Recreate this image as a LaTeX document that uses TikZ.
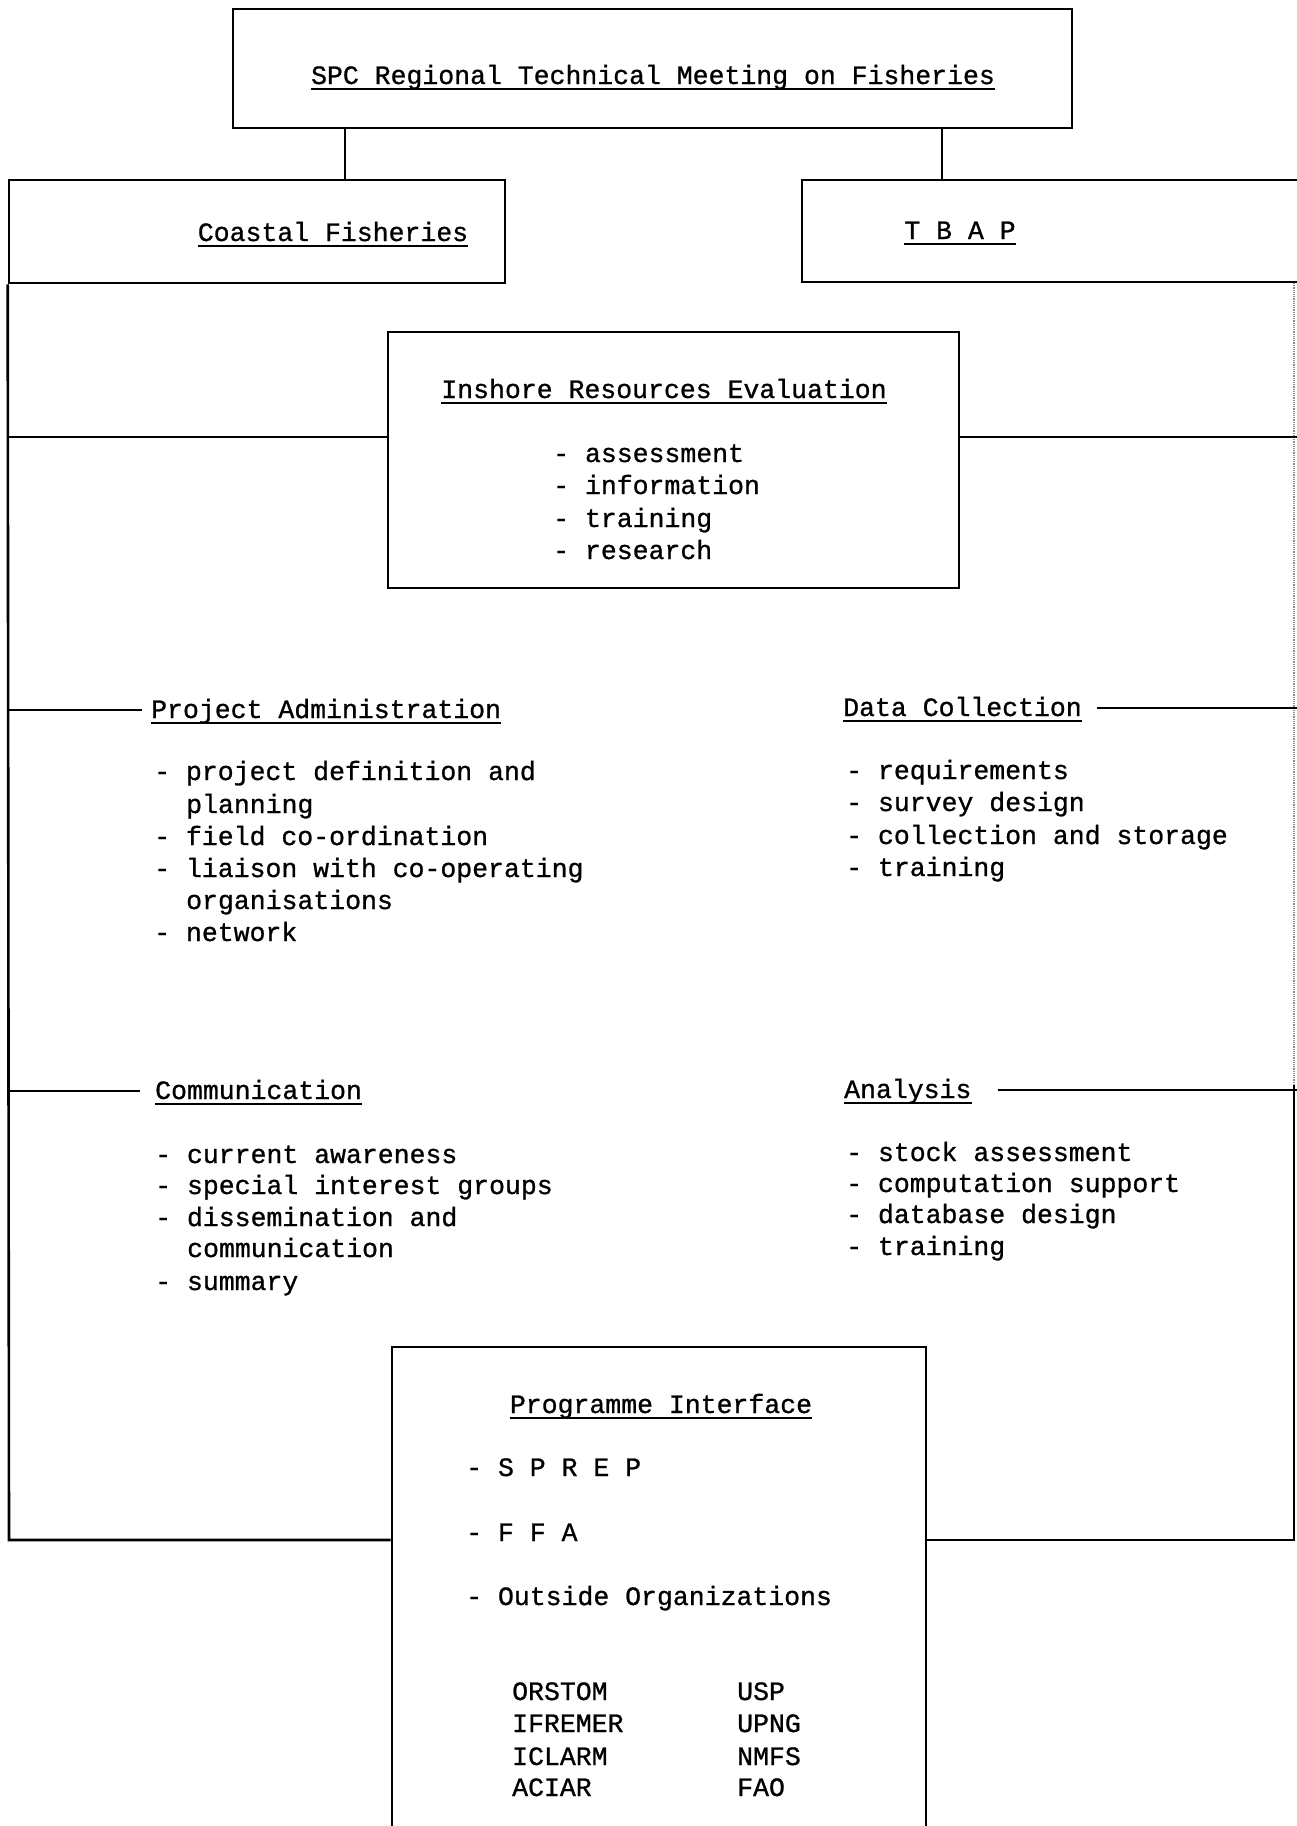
\documentclass[tikz,border=0pt]{standalone}
\usepackage{fontspec}
\setmainfont{Liberation Mono}[FakeBold=0.9]
\begin{document}
\begin{tikzpicture}[x=1pt,y=-1pt,
  ln/.style={line width=2.6pt},
  faint/.style={line width=1.2pt, densely dotted, black!45},
  box/.style={draw, line width=2.6pt, inner sep=0pt},
  txt/.style={inner sep=0pt, font=\fontsize{26.5}{32}\selectfont, anchor=base west},
  ttl/.style={txt, anchor=base},
  ul/.style={line width=1.6pt}]
\useasboundingbox[fill=white] (0,0) rectangle (1297,1826);

% boxes
\node[box, minimum width=839pt, minimum height=119pt] (spc) at (652.5,68.5) {};
\node[box, minimum width=496pt, minimum height=103pt] (coast) at (257,231.5) {};
\draw[ln] (1310,180) -- (802,180) -- (802,282) -- (1310,282);
\coordinate (tbapl) at (802,231);
\node[box, minimum width=571pt, minimum height=256pt] (insh) at (673.5,460) {};
\node[box, minimum width=534pt, minimum height=503pt] (prog) at (659,1598.5) {};

% connectors from top box
\draw[ln] (spc.south -| 345,0) -- (coast.north -| 345,0);
\draw[ln] (spc.south -| 942,0) -- (942,180);

% trunk coordinates
\coordinate (bl) at (9,1540);
\coordinate (br) at (1294,1540);
\coordinate (hl) at (9,437);
\coordinate (hr) at (1297,437);

\draw[ln] (coast.south west) -- (bl) -- (prog.west |- bl);
\draw[ln] (prog.east |- br) -- (br) -- (1294,1085);
\draw[faint] (1294,1085) -- (1294,282);
\draw[ln] (hl) -- (hl -| insh.west);
\draw[ln] (hr) -- (hr -| insh.east);

% titles
\node[ttl] (t0) at (653,84) {SPC Regional Technical Meeting on Fisheries};
\node[ttl] (t1) at (333,241) {Coastal Fisheries};
\node[ttl] (t2) at (960,239) {T B A P};
\node[ttl] (t3) at (664,398) {Inshore Resources Evaluation};
\node[txt] (pa) at (151,718) {Project Administration};
\node[txt] (dc) at (843,716) {Data Collection};
\node[txt] (cm) at (155,1099) {Communication};
\node[txt] (an) at (844,1098) {Analysis};
\node[ttl] (pi) at (661,1413) {Programme Interface};

\foreach \n in {t0,t1,t2,t3,pa,dc,cm,an,pi}
  \draw[ul] ([yshift=-5pt]\n.base west) -- ([yshift=-5pt]\n.base east);

% lines to section headings
\coordinate (pal) at (9,710);
\coordinate (dcr) at (1297,708);
\coordinate (cml) at (9,1091);
\coordinate (anr) at (1297,1090);
\draw[ln] (pal) -- ([xshift=-9pt]pa.base west |- pal);
\draw[ln] ([xshift=15pt]dc.base east |- dcr) -- (dcr);
\draw[ln] (cml) -- ([xshift=-15pt]cm.base west |- cml);
\draw[ln] ([xshift=26pt]an.base east |- anr) -- (anr);

% inshore items
\node[txt] (i1) at (553,462) {- assessment};
\node[txt] (i2) at (553,494) {- information};
\node[txt] (i3) at (553,527) {- training};
\node[txt] (i4) at (553,559) {- research};

% project administration items
\node[txt] (p1) at (154,780) {- project definition and};
\node[txt] (p2) at (186,813) {planning};
\node[txt] (p3) at (154,845) {- field co-ordination};
\node[txt] (p4) at (154,877) {- liaison with co-operating};
\node[txt] (p5) at (186,909) {organisations};
\node[txt] (p6) at (154,941) {- network};

% data collection items
\node[txt] (d1) at (846,779) {- requirements};
\node[txt] (d2) at (846,811) {- survey design};
\node[txt] (d3) at (846,844) {- collection and storage};
\node[txt] (d4) at (846,876) {- training};

% communication items
\node[txt] (c1) at (155,1163) {- current awareness};
\node[txt] (c2) at (155,1194) {- special interest groups};
\node[txt] (c3) at (155,1226) {- dissemination and};
\node[txt] (c4) at (187,1257) {communication};
\node[txt] (c5) at (155,1290) {- summary};

% analysis items
\node[txt] (a1) at (846,1161) {- stock assessment};
\node[txt] (a2) at (846,1192) {- computation support};
\node[txt] (a3) at (846,1223) {- database design};
\node[txt] (a4) at (846,1255) {- training};

% programme interface items
\node[txt] (g1) at (466,1476) {- S P R E P};
\node[txt] (g2) at (466,1541) {- F F A};
\node[txt] (g3) at (466,1605) {- Outside Organizations};
\node[txt] (o1) at (512,1700) {ORSTOM};
\node[txt] (o2) at (512,1732) {IFREMER};
\node[txt] (o3) at (512,1765) {ICLARM};
\node[txt] (o4) at (512,1796) {ACIAR};
\node[txt] (o5) at (737,1700) {USP};
\node[txt] (o6) at (737,1732) {UPNG};
\node[txt] (o7) at (737,1765) {NMFS};
\node[txt] (o8) at (737,1796) {FAO};
\end{tikzpicture}
\end{document}
